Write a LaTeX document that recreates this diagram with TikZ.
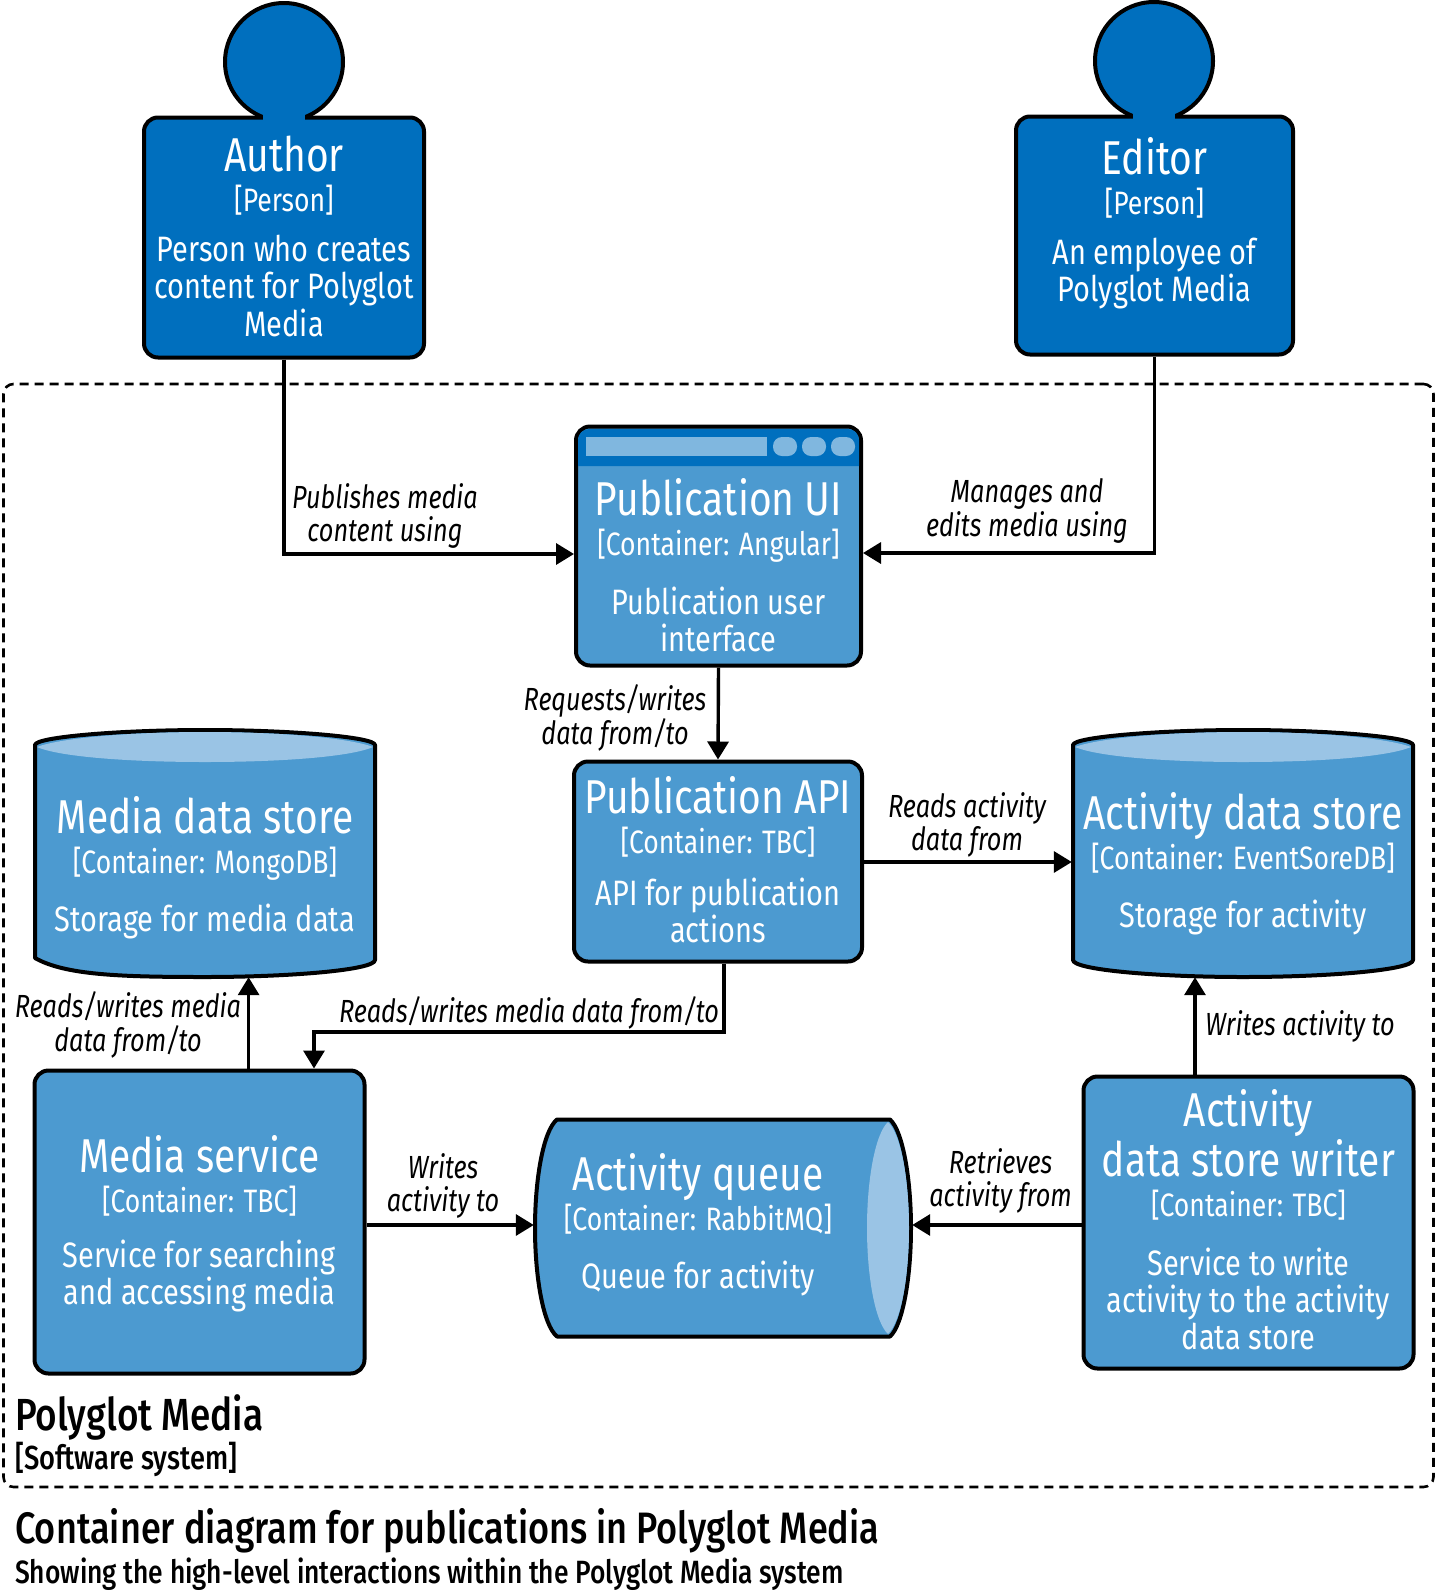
\documentclass[tikz,border=0pt]{standalone}
\usepackage{fontspec}
\usetikzlibrary{arrows.meta}
\setmainfont[FakeStretch=0.82,ItalicFont={Fira Sans Italic},ItalicFeatures={FakeStretch=0.79},BoldFont={Fira Sans Medium}]{Fira Sans}
\definecolor{pdark}{HTML}{006FBE}
\definecolor{cblue}{HTML}{4C9AD0}
\definecolor{cpale}{HTML}{9AC4E5}
\definecolor{cbar}{HTML}{80B7DF}
\newcommand\ftitle{\fontsize{47.5}{50}\selectfont}
\newcommand\ftag{\fontsize{32.4}{40}\selectfont}
\newcommand\fdesc{\fontsize{35.3}{37.2}\selectfont}
\newsavebox\ctextbox
% #1 raise of first baseline above node centre, #2 width, #3 gap tag-desc, #4 title, #5 tag, #6 desc
\newcommand\ctext[6]{\sbox\ctextbox{\begin{minipage}[t]{#2pt}\centering
  {\ftitle #4\par}{\ftag #5\par}\vspace{#3pt}{\fdesc #6\par}\end{minipage}}%
  \smash{\raisebox{#1pt}{\usebox\ctextbox}}}
\tikzset{
  x=1pt,y=-1pt,
  boxbase/.style={line width=4pt,rounded corners=14pt,inner sep=0pt,text=white,draw=black},
  personbox/.style={boxbase,fill=pdark},
  contbox/.style={boxbase,fill=cblue},
  shapeout/.style={line width=4pt,draw=black,line join=round},
  holder/.style={inner sep=0pt,text=white},
  conn/.style={line width=3.4pt,-{Triangle[length=18pt,width=21pt]}},
  lab/.style={inner sep=0pt,align=center,font=\fontsize{32}{33.5}\selectfont\itshape,text=black},
}
\begin{document}
\begin{tikzpicture}
\useasboundingbox (0,0) rectangle (1437,1591);
% boundary
\node[draw=black,line width=2.6pt,dash pattern=on 9pt off 6pt,rounded corners=10pt,minimum width=1430pt,minimum height=1103pt,inner sep=0pt] (boundary) at (718.5,935.5) {};
% Author
\node[circle,minimum size=118pt,inner sep=0pt,draw=black,line width=4pt,fill=pdark] (authorhead) at (284,62) {};
\node[personbox,minimum width=280pt,minimum height=240pt] (author) at (284,237.5)
  {\ctext{66.5}{276}{13.5}{Author}{[Person]}{Person who creates\\content for Polyglot\\Media}};
\fill[pdark] (263,108) rectangle (305,121);
% Editor
\node[circle,minimum size=118pt,inner sep=0pt,draw=black,line width=4pt,fill=pdark] (editorhead) at (1154,61) {};
\node[personbox,minimum width=277pt,minimum height=238pt] (editor) at (1154.5,235.5)
  {\ctext{61.5}{274}{13}{Editor}{[Person]}{An employee of\\Polyglot Media}};
\fill[pdark] (1133,107) rectangle (1175,120);
% Publication UI
\node[contbox,minimum width=285pt,minimum height=239pt] (ui) at (718.5,546)
  {\ctext{31}{280}{22}{Publication UI}{[Container: Angular]}{Publication user\\interface}};
\fill[pdark] (578,466) [rounded corners=11pt] -- (578,429) -- (859,429) [sharp corners] -- (859,466) -- cycle;
\fill[cbar] (586,437) rectangle (767,456);
\fill[cbar,rounded corners=9pt] (773,437) rectangle (797,456);
\fill[cbar,rounded corners=9pt] (802,437) rectangle (826,456);
\fill[cbar,rounded corners=9pt] (831,437) rectangle (855,456);
% Publication API
\node[contbox,minimum width=288pt,minimum height=200pt] (api) at (718,861.5)
  {\ctext{48.5}{284}{15}{Publication API}{[Container: TBC]}{API for publication\\actions}};
% Media data store
\path[shapeout,fill=cblue] (35,745) .. controls (35,737) and (120,730) .. (205,730) .. controls (290,730) and (375,737) .. (375,745) -- (375,960) .. controls (375,970) and (290,977) .. (205,977) .. controls (120,977) and (65,975) .. (35,958) -- cycle;
\fill[cpale] (37,747) .. controls (60,738) and (130,732) .. (205,732) .. controls (280,732) and (350,738) .. (373,747) .. controls (350,757) and (280,762) .. (205,762) .. controls (130,762) and (60,757) .. (37,747) -- cycle;
\node[holder,minimum width=344pt,minimum height=247pt] (mstore) at (205,853.5)
  {\ctext{20.5}{340}{21}{Media data store}{[Container: MongoDB]}{Storage for media data}};
% Activity data store
\path[shapeout,fill=cblue] (1073,745) .. controls (1073,737) and (1159,730) .. (1243,730) .. controls (1328,730) and (1413,737) .. (1413,745) -- (1413,960) .. controls (1413,970) and (1328,977) .. (1243,977) .. controls (1159,977) and (1073,970) .. (1073,960) -- cycle;
\fill[cpale] (1075,747) .. controls (1099,738) and (1168,732) .. (1243,732) .. controls (1318,732) and (1387,738) .. (1411,747) .. controls (1387,757) and (1318,762) .. (1243,762) .. controls (1168,762) and (1099,757) .. (1075,747) -- cycle;
\node[holder,minimum width=342pt,minimum height=247pt] (astore) at (1243,853.5)
  {\ctext{24.5}{340}{21}{Activity data store}{[Container: EventSoreDB]}{Storage for activity}};
% Media service
\node[contbox,minimum width=330pt,minimum height=303pt] (mservice) at (199.5,1222)
  {\ctext{50}{325}{18}{Media service}{[Container: TBC]}{Service for searching\\and accessing media}};
% Activity queue
\path[shapeout,fill=cblue] (557,1119.5) -- (890,1119.5) .. controls (903,1131) and (911,1180) .. (911,1228) .. controls (911,1276) and (903,1325) .. (890,1336.5) -- (557,1336.5) .. controls (543,1325) and (535,1276) .. (535,1228) .. controls (535,1180) and (543,1131) .. (557,1119.5) -- cycle;
\fill[cpale] (888,1122) .. controls (901,1134) and (909,1180) .. (909,1228) .. controls (909,1276) and (901,1322) .. (888,1334) .. controls (875,1322) and (867,1276) .. (867,1228) .. controls (867,1180) and (875,1134) .. (888,1122) -- cycle;
\node[holder,minimum width=378pt,minimum height=218pt] (queue) at (723,1228)
  {\ctext{38}{328}{21}{Activity queue}{[Container: RabbitMQ]}{Queue for activity}\hspace*{50pt}};
% Writer
\node[contbox,minimum width=330pt,minimum height=292pt] (writer) at (1248.5,1222.5)
  {\ctext{96.5}{325}{22}{Activity\\data store writer}{[Container: TBC]}{Service to write\\activity to the activity\\data store}};
% connectors
\draw[conn] (author.south) |- (ui.west |- 0,554);
\draw[conn] (editor.south) |- (ui.east |- 0,553);
\draw[conn] (ui.south) -- (api.north);
\draw[conn] (api.east |- 0,862) -- (astore.west |- 0,862);
\draw[conn] (api.south -| 724,0) |- (314,1032) -- (mservice.north -| 314,0);
\draw[conn] (mservice.north -| 248.6,0) -- (mstore.south -| 248.6,0);
\draw[conn] (writer.north -| 1195,0) -- (astore.south -| 1195,0);
\draw[conn] (mservice.east |- 0,1225) -- (queue.west |- 0,1225);
\draw[conn] (writer.west |- 0,1225) -- (queue.east |- 0,1225);
% labels
\node[lab] (l1) at (385,516) {Publishes media\\content using};
\node[lab] (l2) at (1027,511) {Manages and\\edits media using};
\node[lab] (l3) at (615,718) {Requests/writes\\data from/to};
\node[lab] (l4) at (967,825) {Reads activity\\data from};
\node[lab] (l5) at (128,1025) {Reads/writes media\\data from/to};
\node[lab] (l6) at (529,1013) {Reads/writes media data from/to};
\node[lab] (l7) at (1300,1026) {Writes activity to};
\node[lab] (l8) at (443,1186) {Writes\\activity to};
\node[lab] (l9) at (1000.6,1181) {Retrieves\\activity from};
% titles
\node[anchor=base west,inner sep=0pt,font=\fontsize{45}{46}\selectfont\bfseries] (sys) at (15,1430) {Polyglot Media};
\node[anchor=base west,inner sep=0pt,font=\fontsize{33.3}{34}\selectfont\bfseries] (systag) at (15,1469) {[Software system]};
\node[anchor=base west,inner sep=0pt,font=\fontsize{44}{46}\selectfont\bfseries] (cap) at (15,1543) {Container diagram for publications in Polyglot Media};
\node[anchor=base west,inner sep=0pt,font=\fontsize{32.2}{34}\selectfont\bfseries] (cap2) at (15,1583) {Showing the high-level interactions within the Polyglot Media system};
\end{tikzpicture}
\end{document}
